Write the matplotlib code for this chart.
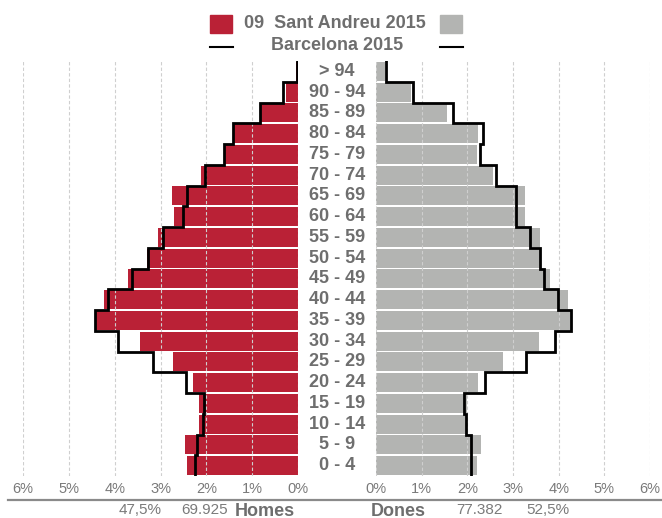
import numpy as np
import matplotlib
matplotlib.use("Agg")
import matplotlib.pyplot as plt
from matplotlib.lines import Line2D
from matplotlib.patches import Rectangle
from matplotlib.transforms import blended_transform_factory

plt.rcParams['font.family'] = ['Liberation Sans Narrow', 'Liberation Sans', 'DejaVu Sans']

# age groups, bottom to top
age_groups = ['0 - 4', '5 - 9', '10 - 14', '15 - 19', '20 - 24', '25 - 29', '30 - 34',
              '35 - 39', '40 - 44', '45 - 49', '50 - 54', '55 - 59', '60 - 64',
              '65 - 69', '70 - 74', '75 - 79', '80 - 84', '85 - 89', '90 - 94', '> 94']

# 09 Sant Andreu 2015 (% of total population)
homes_pct = [2.42, 2.47, 2.15, 2.15, 2.30, 2.72, 3.45, 4.40, 4.24, 3.71,
             3.30, 3.06, 2.71, 2.74, 2.11, 1.60, 1.40, 0.81, 0.27, 0.05]
dones_pct = [2.21, 2.30, 1.98, 2.00, 2.24, 2.79, 3.56, 4.28, 4.21, 3.82,
             3.62, 3.59, 3.27, 3.27, 2.57, 2.21, 2.24, 1.56, 0.76, 0.20]

# Barcelona 2015
bcn_homes_pct = [2.24, 2.21, 2.08, 2.05, 2.45, 3.16, 3.92, 4.42, 4.14, 3.62,
                 3.28, 2.95, 2.51, 2.42, 2.04, 1.61, 1.42, 0.83, 0.32, 0.03]
bcn_dones_pct = [2.07, 2.07, 1.98, 1.92, 2.38, 3.28, 3.92, 4.28, 3.99, 3.68,
                 3.59, 3.37, 3.06, 3.06, 2.62, 2.27, 2.34, 1.69, 0.80, 0.22]

tick_values = [0, 1, 2, 3, 4, 5, 6]
tick_labels = ['0%', '1%', '2%', '3%', '4%', '5%', '6%']

totals_homes = ['47,5%', '69.925']
totals_dones = ['77.382', '52,5%']

red = '#ba2136'
grey = '#b3b4b2'
txt = '#6e6e6e'

W, H = 662, 518
fig = plt.figure(figsize=(W / 100, H / 100), dpi=100)


def fx(px):
    return px / W


def fy(py):
    return 1 - py / H


ax_l = fig.add_axes([fx(23), fy(476), fx(298) - fx(23), fy(61) - fy(476)])
ax_r = fig.add_axes([fx(376), fy(476), fx(650) - fx(376), fy(61) - fy(476)])

y = np.arange(len(age_groups))


def step_outline(vals):
    xs = np.repeat(vals, 2)
    ys = np.ravel([[i - 0.5, i + 0.5] for i in range(len(vals))])
    return xs, ys


for ax, vals, bcn, col in [(ax_l, homes_pct, bcn_homes_pct, red),
                           (ax_r, dones_pct, bcn_dones_pct, grey)]:
    ax.barh(y, vals, height=0.92, color=col, zorder=2)
    xs, ys = step_outline(bcn)
    ax.plot(xs, ys, color='black', lw=2.0, zorder=4, solid_joinstyle='miter')
    ax.set_xlim(0, 6)
    ax.set_ylim(-0.5, len(age_groups) - 0.5)
    ax.set_xticks(tick_values)
    ax.set_xticklabels(tick_labels)
    ax.set_yticks([])
    for v in tick_values:
        ax.axvline(v, color='#cfcfcf', lw=0.8, ls=(0, (3, 2)), zorder=3)
    for s in ax.spines.values():
        s.set_visible(False)
    ax.tick_params(axis='x', length=0, pad=4, labelsize=10.5, labelcolor='#7a7a7a')

ax_l.invert_xaxis()

# age group labels in the middle
trans = blended_transform_factory(fig.transFigure, ax_l.transData)
for i, lab in enumerate(age_groups):
    fig.text(fx(337), i, lab, transform=trans, ha='center', va='center',
             fontsize=13, fontweight='bold', color=txt)

# legend
fig.add_artist(Rectangle((fx(210), fy(33)), fx(22), fy(15) - fy(33), color=red,
                         transform=fig.transFigure))
fig.add_artist(Rectangle((fx(440), fy(33)), fx(22), fy(15) - fy(33), color=grey,
                         transform=fig.transFigure))
fig.text(fx(335), fy(24), '09  Sant Andreu 2015', ha='center', va='center',
         fontsize=13, fontweight='bold', color=txt)
fig.add_artist(Line2D([fx(210), fx(233)], [fy(47), fy(47)], color='black', lw=1.5))
fig.add_artist(Line2D([fx(440), fx(463)], [fy(47), fy(47)], color='black', lw=1.5))
fig.text(fx(337), fy(46), 'Barcelona 2015', ha='center', va='center',
         fontsize=13, fontweight='bold', color=txt)

# bottom rule and totals
fig.add_artist(Line2D([fx(8), 1], [fy(500), fy(500)], color='#8a8a8a', lw=1.6))
fig.text(fx(140), fy(510), totals_homes[0], ha='center', va='center', fontsize=11, color='#7a7a7a')
fig.text(fx(205), fy(510), totals_homes[1], ha='center', va='center', fontsize=11, color='#7a7a7a')
fig.text(fx(265), fy(511), 'Homes', ha='center', va='center', fontsize=13,
         fontweight='bold', color=txt)
fig.text(fx(398), fy(511), 'Dones', ha='center', va='center', fontsize=13,
         fontweight='bold', color=txt)
fig.text(fx(479), fy(510), totals_dones[0], ha='center', va='center', fontsize=11, color='#7a7a7a')
fig.text(fx(548), fy(510), totals_dones[1], ha='center', va='center', fontsize=11, color='#7a7a7a')

fig.savefig('out.png', dpi=100)
